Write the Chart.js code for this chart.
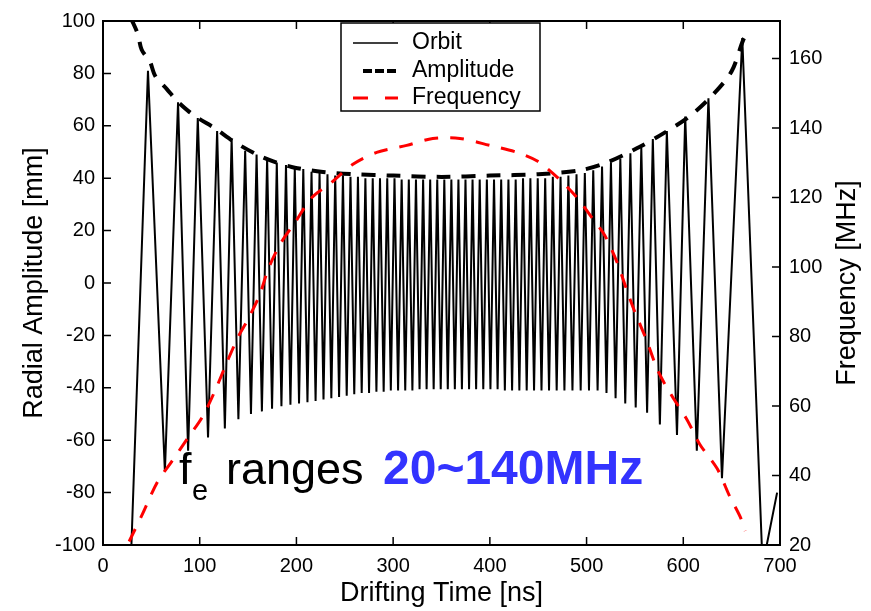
<!DOCTYPE html>
<html>
<head>
<meta charset="utf-8">
<title>Orbit / Amplitude / Frequency</title>
<script src="https://cdn.jsdelivr.net/npm/chart.js@4.4.1/dist/chart.umd.min.js"></script>
<style>
  html, body { margin: 0; padding: 0; background: #fff; }
  #wrap { width: 871px; height: 611px; }
</style>
</head>
<body>
<div id="wrap"><canvas id="orbitChart" width="871" height="611"></canvas></div>
<script>
// Orbit: turning points (time in ns, radial position in mm)
const orbitTime = [
    29, 46.5, 64, 77.6, 88, 98, 108.6, 118, 126, 133,
    140, 147, 153, 158.8, 164.3, 169.7, 174.8, 179.7, 184.5, 189.2,
    193.8, 198.3, 202.7, 207.1, 211.4, 215.6, 219.8, 223.9, 228, 232.1,
    236.1, 240.1, 244.1, 248.1, 252, 255.9, 259.8, 263.6, 267.5, 271.3,
    275.1, 278.9, 282.7, 286.4, 290.2, 293.9, 297.6, 301.4, 305.1, 308.8,
    312.5, 316.2, 319.9, 323.6, 327.3, 331, 334.6, 338.3, 341.9, 345.6,
    349.2, 352.9, 356.5, 360.2, 363.8, 367.5, 371.1, 374.8, 378.5, 382.1,
    385.8, 389.5, 393.2, 396.9, 400.6, 404.3, 408, 411.7, 415.5, 419.2,
    423, 426.7, 430.5, 434.3, 438.1, 441.9, 445.7, 449.5, 453.4, 457.2,
    461.2, 465.1, 469.1, 473.1, 477.1, 481.2, 485.4, 489.6, 493.9, 498.2,
    502.5, 506.9, 511.4, 516, 520.6, 525.2, 530, 534.9, 540, 545.3,
    550.8, 556.6, 562.6, 568.5, 575.8, 583, 593.5, 602, 614, 626,
    640, 661, 682, 697
];
const orbitValue = [
    -104, 81, -72, 69, -64, 63, -59, 58, -55.5, 55,
    -52, 50.5, -50, 49, -49, 47.5, -48, 46, -47, 45,
    -46.5, 44, -46, 43.5, -45.5, 42.5, -45, 42, -44.5, 41.5,
    -44, 41, -43.5, 41, -43, 40.5, -42.5, 40.5, -42, 40,
    -42, 40, -41.5, 40, -41.5, 40, -41, 40, -41, 39.5,
    -41, 39.5, -41, 39.5, -40.5, 39.5, -40.5, 39.5, -40.5, 39.5,
    -40.5, 39.5, -40.5, 39.5, -40.5, 39.5, -40.5, 39.5, -40.5, 39.5,
    -40.5, 39.5, -40.5, 39.5, -40.5, 39.5, -40.5, 39.5, -41, 39.5,
    -41, 39.5, -41, 40, -41, 40, -41, 40, -41, 40,
    -41, 40.5, -41, 40.5, -41, 41, -41, 41.5, -41, 42,
    -41, 43, -41, 44.5, -42, 46, -44, 47.5, -46, 49.5,
    -47.5, 51.5, -49.5, 55, -54, 58, -58, 63.5, -64, 70.5,
    -74.5, 93.5, -108, -80
];

// Amplitude envelope (ns, mm)
const ampTime = [29, 36, 40, 48.5, 54, 66, 76.5, 88, 98, 116, 136.5, 165, 195, 227.5,
    260, 300, 350, 400, 450, 493, 521, 552, 579, 607, 631, 650, 662, 667];
const ampValue = [101, 95, 89, 84.5, 79, 74, 69.5, 65.7, 63, 59, 53.7, 48, 44.3, 42.4,
    41.5, 41, 40.5, 41, 41.5, 43, 46, 51.4, 57, 63.8, 72, 80.8, 92.8, 96];

// Frequency (ns, MHz) on the right axis
const freqTime = [27, 41, 56, 71, 87, 103, 116, 128, 140, 150, 162, 171, 183, 199, 216, 237,
    258, 283, 314, 341, 369, 400, 428, 449, 471, 490, 506, 519, 532, 542, 550, 562,
    574, 588, 604, 617, 635, 648, 659, 664];
const freqValue = [21, 29, 38, 44, 50.5, 57, 64.5, 72.5, 80, 85, 92, 99.5, 106.5, 113, 120, 124.5,
    129.5, 133, 135, 137, 137, 135, 133, 130.5, 125.5, 120, 114, 109, 101, 93, 87, 79,
    70, 63, 56, 49, 42, 34, 28, 24];

const xTicks = [0, 100, 200, 300, 400, 500, 600, 700];
const leftTicks = [-100, -80, -60, -40, -20, 0, 20, 40, 60, 80, 100];
const rightTicks = [20, 40, 60, 80, 100, 120, 140, 160];

const FONT = '"Liberation Sans", Arial, sans-serif';
const toPoints = (xs, ys) => xs.map((x, i) => ({x: x, y: ys[i]}));
const setTicks = list => scale => { scale.ticks = list.map(v => ({value: v})); };

// Box, inward ticks, right axis title, legend and the note
const framePlugin = {
    id: 'frame',
    afterDatasetsDraw(chart) {
        const {ctx, chartArea: a, scales} = chart;
        const tickLen = 8;
        ctx.save();
        ctx.strokeStyle = '#000';
        ctx.lineWidth = 1.5;
        ctx.beginPath();
        scales.x.ticks.forEach(t => {
            const px = scales.x.getPixelForValue(t.value);
            ctx.moveTo(px, a.bottom); ctx.lineTo(px, a.bottom - tickLen);
            ctx.moveTo(px, a.top); ctx.lineTo(px, a.top + tickLen);
        });
        scales.y.ticks.forEach(t => {
            const py = scales.y.getPixelForValue(t.value);
            ctx.moveTo(a.left, py); ctx.lineTo(a.left + tickLen, py);
        });
        scales.y2.ticks.forEach(t => {
            const py = scales.y2.getPixelForValue(t.value);
            ctx.moveTo(a.right, py); ctx.lineTo(a.right - tickLen, py);
        });
        ctx.stroke();
        ctx.lineWidth = 2;
        ctx.strokeRect(a.left, a.top, a.right - a.left, a.bottom - a.top);

        // right axis title, reads bottom to top like the left one
        ctx.save();
        ctx.translate(848, (a.top + a.bottom) / 2);
        ctx.rotate(-Math.PI / 2);
        ctx.font = '27px ' + FONT;
        ctx.fillStyle = '#000';
        ctx.textAlign = 'center';
        ctx.textBaseline = 'middle';
        ctx.fillText('Frequency [MHz]', 0, 0);
        ctx.restore();

        // legend
        const lx = 341, ly = 23, lw = 199, lh = 88;
        ctx.fillStyle = '#fff';
        ctx.fillRect(lx, ly, lw, lh);
        ctx.lineWidth = 1.5;
        ctx.strokeRect(lx, ly, lw, lh);
        const rows = [
            {label: 'Orbit', color: '#000', width: 1.5, dash: [], y: 43, x0: 353},
            {label: 'Amplitude', color: '#000', width: 4, dash: [9, 3], y: 71, x0: 363},
            {label: 'Frequency', color: '#ff0000', width: 3, dash: [15, 17], y: 98, x0: 353}
        ];
        rows.forEach(r => {
            ctx.beginPath();
            ctx.setLineDash(r.dash);
            ctx.strokeStyle = r.color;
            ctx.lineWidth = r.width;
            ctx.moveTo(r.x0, r.y);
            ctx.lineTo(398, r.y);
            ctx.stroke();
            ctx.setLineDash([]);
            ctx.fillStyle = '#000';
            ctx.font = '23px ' + FONT;
            ctx.textAlign = 'left';
            ctx.textBaseline = 'middle';
            ctx.fillText(r.label, 412, r.y);
        });

        // note
        ctx.textBaseline = 'alphabetic';
        ctx.fillStyle = '#000';
        ctx.font = '45px ' + FONT;
        ctx.fillText('f', 179, 484);
        ctx.font = '29px ' + FONT;
        ctx.fillText('e', 192, 500);
        ctx.font = '45px ' + FONT;
        ctx.fillText('ranges', 226, 484);
        ctx.fillStyle = '#3333ff';
        ctx.font = 'bold 48px ' + FONT;
        ctx.fillText('20~140MHz', 383, 484);
        ctx.restore();
    }
};

const ctx = document.getElementById('orbitChart').getContext('2d');
new Chart(ctx, {
    type: 'line',
    data: {
        datasets: [
            {
                label: 'Frequency',
                data: toPoints(freqTime, freqValue),
                yAxisID: 'y2',
                borderColor: '#ff0000',
                borderWidth: 3,
                borderDash: [14, 12],
                pointRadius: 0,
                tension: 0.3,
                order: 1
            },
            {
                label: 'Amplitude',
                data: toPoints(ampTime, ampValue),
                yAxisID: 'y',
                borderColor: '#000',
                borderWidth: 4,
                borderDash: [14, 11],
                pointRadius: 0,
                tension: 0.3,
                order: 2
            },
            {
                label: 'Orbit',
                data: toPoints(orbitTime, orbitValue),
                yAxisID: 'y',
                borderColor: '#000',
                borderWidth: 2,
                pointRadius: 0,
                tension: 0,
                order: 3
            }
        ]
    },
    options: {
        responsive: false,
        animation: false,
        devicePixelRatio: 1,
        layout: {padding: {top: 14, left: 0, right: 0, bottom: 0}},
        plugins: {
            legend: {display: false},
            tooltip: {enabled: false}
        },
        scales: {
            x: {
                type: 'linear',
                position: 'bottom',
                min: 0,
                max: 700,
                afterBuildTicks: setTicks(xTicks),
                afterFit: scale => { scale.height = 66; },
                grid: {display: false, drawTicks: false},
                border: {display: false},
                ticks: {color: '#000', padding: 9, font: {family: FONT, size: 20}},
                title: {
                    display: true,
                    text: 'Drifting Time [ns]',
                    color: '#000',
                    font: {family: FONT, size: 27},
                    padding: {top: 0, bottom: 1}
                }
            },
            y: {
                type: 'linear',
                position: 'left',
                min: -100,
                max: 100,
                afterBuildTicks: setTicks(leftTicks),
                afterFit: scale => { scale.width = 103; },
                grid: {display: false, drawTicks: false},
                border: {display: false},
                ticks: {color: '#000', padding: 8, font: {family: FONT, size: 20}},
                title: {
                    display: true,
                    text: 'Radial Amplitude [mm]',
                    color: '#000',
                    font: {family: FONT, size: 27},
                    padding: {top: 18, bottom: 0}
                }
            },
            y2: {
                type: 'linear',
                position: 'right',
                min: 20,
                max: 170.8,
                afterBuildTicks: setTicks(rightTicks),
                afterFit: scale => { scale.width = 91; },
                grid: {display: false, drawTicks: false},
                border: {display: false},
                ticks: {color: '#000', padding: 9, font: {family: FONT, size: 20}}
            }
        }
    },
    plugins: [framePlugin]
});
</script>
</body>
</html>
